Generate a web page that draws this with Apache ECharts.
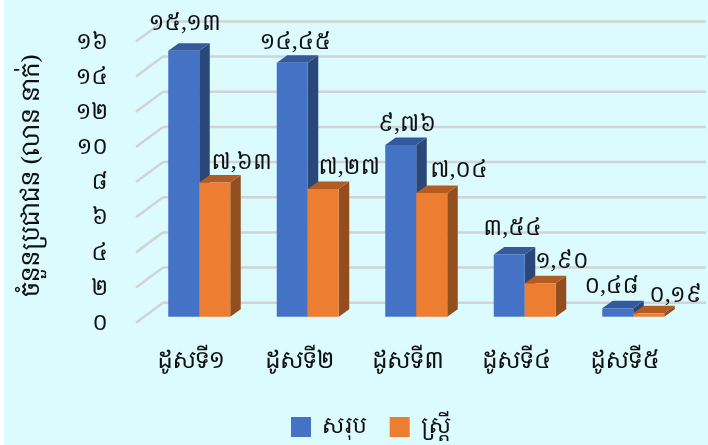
<!DOCTYPE html>
<html>
<head>
<meta charset="utf-8">
<style>
  html, body { margin: 0; padding: 0; background: #fff; }
  #chart { position: absolute; left: 4px; top: 0; width: 704px; height: 445px; background: #dbfbff; }
</style>
<script src="https://cdn.jsdelivr.net/npm/echarts@6/dist/echarts.min.js"></script>
</head>
<body>
<div id="chart"></div>
<script>
var categories = ['ដូសទី១', 'ដូសទី២', 'ដូសទី៣', 'ដូសទី៤', 'ដូសទី៥'];
var totalValues = [15.13, 14.45, 9.76, 3.54, 0.48];
var womenValues = [7.63, 7.27, 7.04, 1.90, 0.19];
var totalLabels = ['១៥,១៣', '១៤,៤៥', '៩,៧៦', '៣,៥៤', '០,៤៨'];
var womenLabels = ['៧,៦៣', '៧,២៧', '៧,០៤', '១,៩០', '០,១៩'];
var tickValues = [0, 2, 4, 6, 8, 10, 12, 14, 16];
var tickLabels = ['០', '២', '៤', '៦', '៨', '១០', '១២', '១៤', '១៦'];
var seriesNames = ['សរុប', 'ស្ត្រី'];
var axisName = 'ចំនួនប្រជាជន (លាន នាក់)';

var FONT = '"Noto Serif Khmer", "Noto Sans Khmer", "Khmer OS", "Noto Sans", sans-serif';
var BAR_W = 31;
var DX = 10.5, DY = -7.5;
// labels were placed by hand in the original, offset from the top middle of each bar
var totalShift = [[1.5, -27], [3.5, -20], [6, -20], [3, -26], [-6, -22]];
var womenShift = [[27, -20], [26, -21], [27, -22], [22, -22], [27, -18]];

function barItem(colors, side, labels, shift) {
  return function (params, api) {
    var i = params.dataIndex;
    var v = api.value(1);
    var base = api.coord([api.value(0), 0]);
    var top = api.coord([api.value(0), v]);
    var x0 = side < 0 ? base[0] - BAR_W : base[0];
    var x1 = x0 + BAR_W;
    return {
      type: 'group',
      children: [
        { type: 'polygon', shape: { points: [[x1, base[1]], [x1 + DX, base[1] + DY], [x1 + DX, top[1] + DY], [x1, top[1]]] }, style: { fill: colors[2] } },
        { type: 'polygon', shape: { points: [[x0, top[1]], [x0 + DX, top[1] + DY], [x1 + DX, top[1] + DY], [x1, top[1]]] }, style: { fill: colors[1] } },
        { type: 'rect', shape: { x: x0, y: top[1], width: BAR_W, height: base[1] - top[1] }, style: { fill: colors[0] } },
        {
          type: 'text',
          z2: 50,
          x: x0 + BAR_W / 2 + shift[i][0],
          y: top[1] + shift[i][1],
          style: { text: labels[i], font: '22px ' + FONT, fill: '#111', align: 'center', verticalAlign: 'middle' }
        }
      ]
    };
  };
}

// walls of the fake 3d box: diagonal on the left, long line along the back
function gridItem(params, api) {
  var y = api.coord([0, api.value(0)])[1];
  var left = params.coordSys.x;
  var ls = { stroke: '#d0d4d4', lineWidth: 2.5 };
  return {
    type: 'group',
    children: [
      { type: 'line', shape: { x1: left - 9, y1: y + 6, x2: left + 18, y2: y - 14 }, style: ls },
      { type: 'line', shape: { x1: left + 18, y1: y - 14, x2: 702, y2: y - 14 }, style: ls }
    ]
  };
}

var chart = echarts.init(document.getElementById('chart'));
chart.setOption({
  animation: false,
  textStyle: { fontFamily: FONT, color: '#111' },
  grid: { left: 141, top: 35.4, width: 542.5, height: 281.3 },
  legend: {
    data: seriesNames,
    left: 282,
    top: 411,
    icon: 'rect',
    itemWidth: 20,
    itemHeight: 20,
    itemGap: 23,
    textStyle: { fontFamily: FONT, fontSize: 22, color: '#111', padding: [0, 0, 36, 6] }
  },
  xAxis: {
    type: 'category',
    data: categories,
    axisLine: { show: false },
    axisTick: { show: false },
    axisLabel: { fontFamily: FONT, fontSize: 23, color: '#111', margin: 33, padding: [0, 16, 0, 0], interval: 0 }
  },
  yAxis: {
    type: 'value',
    min: 0,
    max: 16,
    interval: 2,
    name: axisName,
    nameLocation: 'middle',
    nameGap: 101,
    nameTextStyle: { fontFamily: FONT, fontSize: 24, color: '#111' },
    axisLine: { show: false },
    axisTick: { show: false },
    splitLine: { show: false },
    axisLabel: {
      fontFamily: FONT,
      fontSize: 22,
      color: '#111',
      margin: 37,
      verticalAlign: 'top',
      lineHeight: 14,
      formatter: function (v) { return tickLabels[tickValues.indexOf(v)]; }
    }
  },
  series: [
    {
      type: 'custom',
      silent: true,
      coordinateSystem: 'cartesian2d',
      data: tickValues.map(function (v) { return [v]; }),
      encode: { y: 0 },
      renderItem: gridItem,
      z: 1
    },
    {
      name: seriesNames[0],
      type: 'custom',
      coordinateSystem: 'cartesian2d',
      itemStyle: { color: '#4472c4' },
      data: totalValues.map(function (v, i) { return [i, v]; }),
      encode: { x: 0, y: 1 },
      renderItem: barItem(['#4472c4', '#345a9d', '#2a4779'], -1, totalLabels, totalShift),
      z: 2
    },
    {
      name: seriesNames[1],
      type: 'custom',
      coordinateSystem: 'cartesian2d',
      itemStyle: { color: '#ed7d31' },
      data: womenValues.map(function (v, i) { return [i, v]; }),
      encode: { x: 0, y: 1 },
      renderItem: barItem(['#ed7d31', '#b25b22', '#934e1e'], 1, womenLabels, womenShift),
      z: 3
    }
  ]
});
</script>
</body>
</html>
